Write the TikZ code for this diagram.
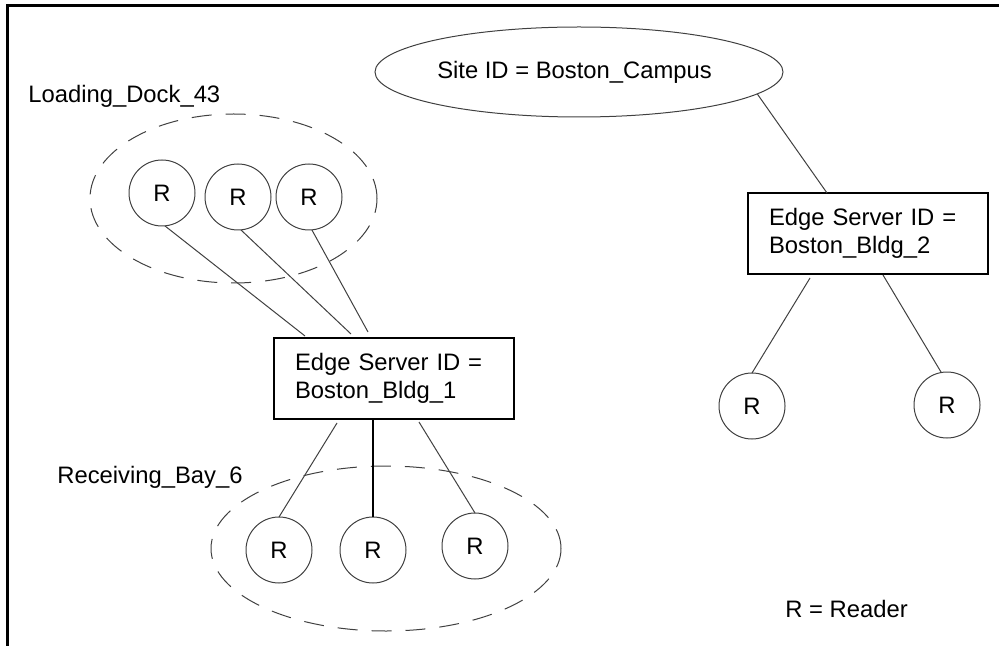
\documentclass[tikz,border=0pt]{standalone}
\usepackage{fontspec}
\setmainfont{Liberation Sans}
\usetikzlibrary{shapes.geometric,calc}
\begin{document}
\begin{tikzpicture}[x=0.5pt,y=-0.5pt,
  every node/.style={font=\fontsize{11.9}{14}\selectfont},
  reader/.style={circle,draw=black!75,line width=0.5pt,minimum size=33pt,inner sep=0pt,outer sep=0pt},
  server/.style={draw=black,line width=0.75pt,minimum width=120pt,minimum height=40.5pt,text width=99pt,inner xsep=10.5pt,align=left,outer sep=0pt,anchor=north west},
  group/.style={ellipse,draw=black!75,line width=0.5pt,dash pattern=on 10pt off 7pt,inner sep=0pt},
  conn/.style={draw=black!75,line width=0.5pt},
  lbl/.style={anchor=base west,inner sep=0pt}]
\useasboundingbox (0,0) rectangle (999,646);
% frame (top and left edges)
\draw[line width=1.7pt] (7.5,646) -- (7.5,5.5) -- (999,5.5);

% site
\node[ellipse,draw=black!75,line width=0.5pt,minimum width=204pt,minimum height=45pt,inner sep=0pt,outer sep=0pt] (site) at (579,72) {\raisebox{1.5pt}{Site ID = Boston\_Campus}\hspace*{4.5pt}};

% groups
\node[group,minimum width=143.5pt,minimum height=84.5pt] (dock) at (233.5,198.5) {};
\node[group,minimum width=175pt,minimum height=82.5pt] (bay) at (386,548.5) {};

% labels
\node[lbl] (docklbl) at (28,103) {Loading\_Dock\_43};
\node[lbl] (baylbl) at (57,483) {Receiving\_Bay\_6};
\node[lbl] (legend) at (785,617) {R = Reader};

% servers
\node[server] (box1) at (274,338) {Edge Server ID =\\Boston\_Bldg\_1};
\node[server] (box2) at (748,193) {Edge Server ID =\\Boston\_Bldg\_2};

% readers
\node[reader] (r1) at (162,193) {R};
\node[reader] (r2) at (238,197) {R};
\node[reader] (r3) at (309,197) {R};
\node[reader] (rr1) at (752,406) {R};
\node[reader] (rr2) at (947,405) {R};
\node[reader] (b1) at (279,550) {R};
\node[reader] (b2) at (373,550) {R};
\node[reader] (b3) at (475,546) {R};

% connectors
\draw[conn] (site.-7) -- ($(box2.north west)+(79,0)$);
\draw[conn] ($(box2.south west)+(62,4)$) -- (rr1.north);
\draw[conn] ($(box2.south west)+(135,1)$) -- (rr2.100);
\draw[conn] (r1.-85) -- ($(box1.north west)+(31,-2)$);
\draw[conn] (r2.-85) -- ($(box1.north west)+(77,-4)$);
\draw[conn] (r3.-85) -- ($(box1.north west)+(94,-6)$);
\draw[conn] ($(box1.south west)+(63,4)$) -- (b1.north);
\draw[conn,draw=black,line width=0.6pt] (b2.north |- box1.south) -- (b2.north);
\draw[conn] ($(box1.south west)+(145,3)$) -- (b3.north);
\end{tikzpicture}
\end{document}
